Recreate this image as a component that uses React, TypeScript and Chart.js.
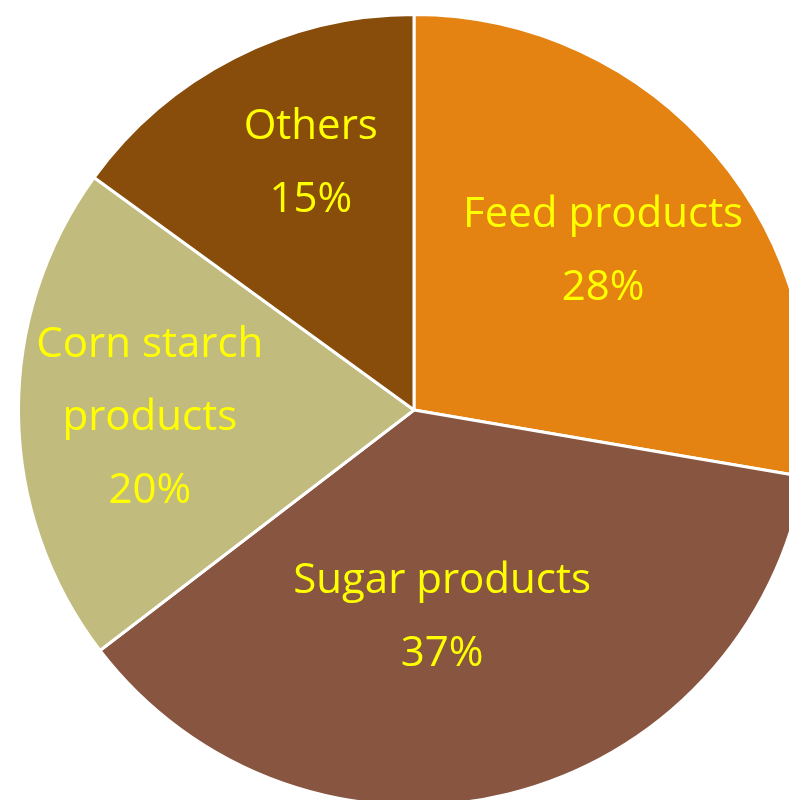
import React, { useEffect, useRef } from "react";
import { Chart, registerables } from "chart.js";

Chart.register(...registerables);

const categories = ["Feed products", "Sugar products", "Corn starch products", "Others"];
const values = [27.7, 36.9, 20.4, 15.0];
const labelLines = [
  ["Feed products", "28%"],
  ["Sugar products", "37%"],
  ["Corn starch", "products", "20%"],
  ["Others", "15%"],
];
const colors = ["#E48212", "#875540", "#C2BB7E", "#884D0B"];

// label block centres, relative to pie centre, in units of the outer radius
const labelOffsets = [
  [0.478, -0.4],
  [0.071, 0.524],
  [-0.668, 0.021],
  [-0.261, -0.622],
];

const labelPlugin = {
  id: "sliceLabels",
  afterDatasetsDraw(chart: any) {
    const meta = chart.getDatasetMeta(0);
    const arc0 = meta.data[0];
    if (!arc0) return;
    const { x, y, outerRadius } = arc0.getProps(["x", "y", "outerRadius"], true);
    const ctx = chart.ctx;
    ctx.save();
    ctx.fillStyle = "#FFFF00";
    ctx.font = '42px "Open Sans", "Noto Sans", sans-serif';
    ctx.textAlign = "center";
    ctx.textBaseline = "middle";
    const lh = 73;
    labelLines.forEach((lines, i) => {
      const cx = x + labelOffsets[i][0] * outerRadius;
      const cy = y + labelOffsets[i][1] * outerRadius;
      const start = cy - ((lines.length - 1) * lh) / 2;
      lines.forEach((t, j) => ctx.fillText(t, cx, start + j * lh));
    });
    ctx.restore();
  },
};

export default function App() {
  const ref = useRef<HTMLCanvasElement>(null);
  useEffect(() => {
    if (!ref.current) return;
    const chart = new Chart(ref.current, {
      type: "pie",
      data: {
        labels: categories,
        datasets: [
          {
            data: values,
            backgroundColor: colors,
            borderColor: "#FFFFFF",
            borderWidth: 3,
          },
        ],
      },
      options: {
        animation: false,
        responsive: false,
        layout: { padding: 0 },
        plugins: { legend: { display: false }, tooltip: { enabled: false } },
      },
      plugins: [labelPlugin],
    });
    return () => chart.destroy();
  }, []);
  return (
    <div
      style={{
        position: "fixed",
        left: 0,
        top: 0,
        width: 789,
        height: 800,
        overflow: "hidden",
        background: "#FFFFFF",
      }}
    >
      <canvas
        ref={ref}
        width={794}
        height={794}
        style={{ position: "absolute", left: 17, top: 13, width: 794, height: 794 }}
      />
    </div>
  );
}
